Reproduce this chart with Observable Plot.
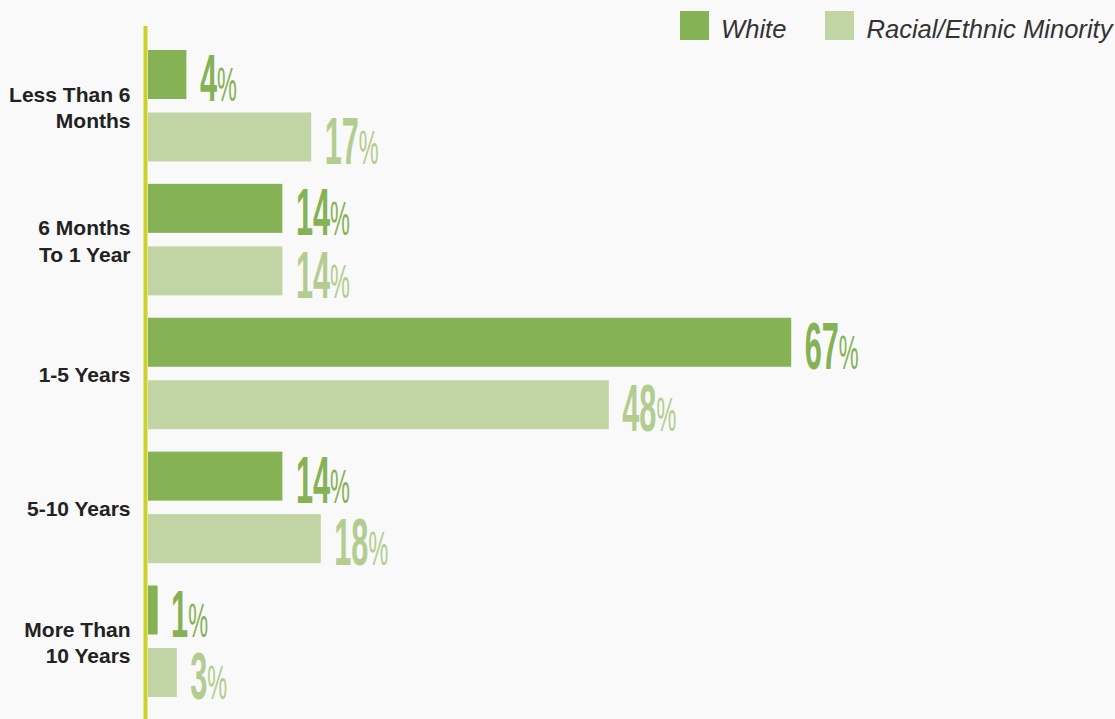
<!DOCTYPE html>
<html><head><meta charset="utf-8">
<script src="https://cdn.jsdelivr.net/npm/d3@7"></script>
<script src="https://cdn.jsdelivr.net/npm/@observablehq/plot@0.6"></script>
<style>
html,body{margin:0;padding:0;background:#f9f9f9;}
#wrap{position:relative;width:1115px;height:719px;overflow:hidden;}
#legend{position:absolute;top:11px;left:680px;display:flex;align-items:center;font-family:"Liberation Sans",Arial,sans-serif;font-style:italic;font-size:25.6px;color:#333;white-space:nowrap;}
#legend .item{display:flex;align-items:center;margin-right:39px;}
#legend .sw{width:29px;height:29px;display:inline-block;margin-right:12px;}
#legend .lab{position:relative;top:4px;}
</style></head><body>
<div id="wrap"><div id="chart"></div><div id="legend"></div></div>
<script>
const categories = ["Less Than 6\nMonths", "6 Months\nTo 1 Year", "1-5 Years", "5-10 Years", "More Than\n10 Years"];
const series = ["White", "Racial/Ethnic Minority"];
const whiteValues = [4, 14, 67, 14, 1];
const minorityValues = [17, 14, 48, 18, 3];
const seriesColors = ["#85b254", "#c1d5a4"];
const labelColors = ["#85b254", "#b3cd90"];

const rows = categories.flatMap((c, i) => [
  {category: c, series: series[0], value: whiteValues[i]},
  {category: c, series: series[1], value: minorityValues[i]}
]);

const valueLabel = (s, i) => Plot.text(rows.filter(d => d.series === s), {
  fy: "category", y: "series", x: "value", text: d => String(d.value),
  fill: labelColors[i], textAnchor: "start", dx: 13, dy: 5,
  fontSize: 66, fontWeight: "bold", fontFamily: "Liberation Sans, Arial, sans-serif"
});

const plot = Plot.plot({
  width: 1115, height: 719,
  marginLeft: 148, marginRight: 7, marginTop: 50, marginBottom: 22,
  style: {background: "transparent", overflow: "visible"},
  x: {domain: [0, 100], axis: null},
  y: {domain: series, axis: null, paddingInner: 13.5 / 62.5, paddingOuter: 0, round: false},
  fy: {domain: categories, axis: null, paddingInner: 22.4 / 133.9, paddingOuter: 0, round: false},
  color: {domain: series, range: seriesColors},
  marks: [
    Plot.barX(rows, {fy: "category", y: "series", x: "value", fill: "series"}),
    valueLabel(series[0], 0),
    valueLabel(series[1], 1),
    Plot.text(categories, {
      fy: d => d, text: d => d, frameAnchor: "left", textAnchor: "end", dx: -18,
      fontSize: 21, fontWeight: "bold", lineHeight: 1.25, fill: "#222",
      fontFamily: "Liberation Sans, Arial, sans-serif"
    })
  ]
});

// condensed value labels with a lighter, larger-looking percent sign
d3.select(plot).selectAll("text").each(function() {
  const t = d3.select(this);
  const v = t.text();
  if (/^\d+$/.test(v)) {
    t.text(v);
    t.append("tspan").attr("font-size", 48).attr("font-weight", "normal").text("%");
    t.attr("transform", (t.attr("transform") || "") + " scale(0.465,1)");
  }
});

// vertical baseline axis
const x0 = plot.scale("x").apply(0);
d3.select(plot).append("line")
  .attr("x1", x0 - 2.5).attr("x2", x0 - 2.5)
  .attr("y1", 26).attr("y2", 719)
  .attr("stroke", "#cbd32a").attr("stroke-width", 4);

document.getElementById("chart").appendChild(plot);

const legend = d3.select("#legend");
series.forEach((s, i) => {
  const it = legend.append("div").attr("class", "item");
  it.append("span").attr("class", "sw").style("background", seriesColors[i]);
  it.append("span").attr("class", "lab").text(s);
});
</script>
</body></html>
